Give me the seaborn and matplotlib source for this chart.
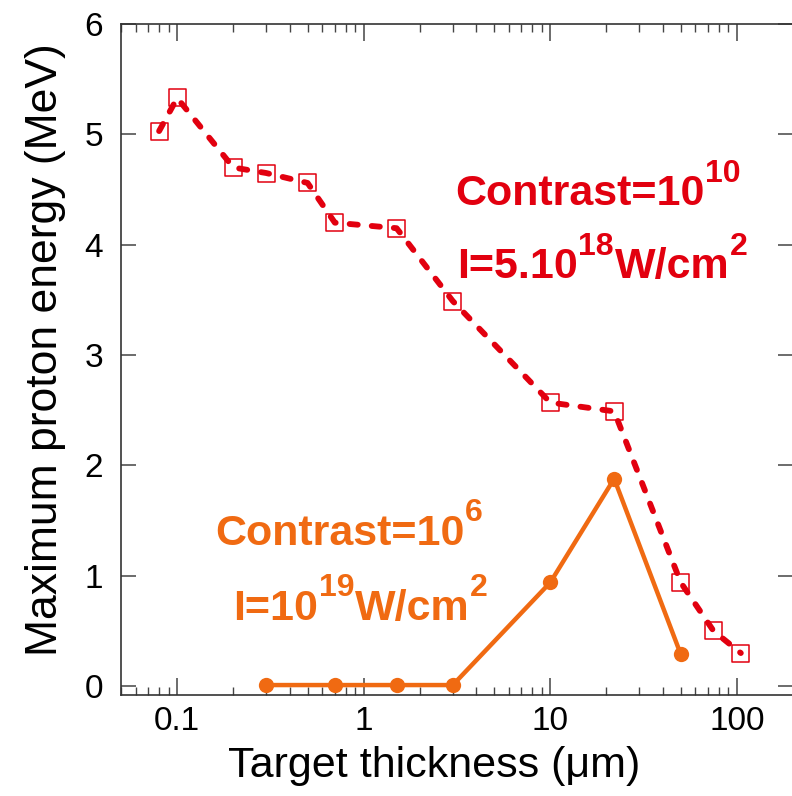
import numpy as np
import pandas as pd
import matplotlib
matplotlib.use('Agg')
import matplotlib.pyplot as plt
import seaborn as sns
from matplotlib.ticker import LogLocator, NullFormatter, FixedLocator

# contrast 1e10, I = 5e18 W/cm2
thick_hi = [0.08, 0.1, 0.2, 0.3, 0.5, 0.7, 1.5, 3.0, 10, 22, 50, 75, 105]
energy_hi = [5.03, 5.33, 4.70, 4.65, 4.56, 4.20, 4.15, 3.49, 2.57, 2.49, 0.94, 0.50, 0.30]

# contrast 1e6, I = 1e19 W/cm2
thick_lo = [0.3, 0.7, 1.5, 3.0, 10, 22, 50]
energy_lo = [0.01, 0.01, 0.01, 0.01, 0.94, 1.88, 0.29]

x_ticks = [0.1, 1, 10, 100]
x_tick_labels = ['0.1', '1', '10', '100']
y_ticks = [0, 1, 2, 3, 4, 5, 6]

# annotation pieces: base, superscript, base, superscript ...
label_hi_1 = ['Contrast=10', '10']
label_hi_2 = ['I=5.10', '18', 'W/cm', '2']
label_lo_1 = ['Contrast=10', '6']
label_lo_2 = ['I=10', '19', 'W/cm', '2']

RED = '#e2000f'
ORANGE = '#f06a12'

sns.set_style('ticks')
plt.rcParams['font.family'] = ['Liberation Sans', 'DejaVu Sans']
plt.rcParams['text.color'] = 'black'

df_hi = pd.DataFrame({'t': thick_hi, 'e': energy_hi})
df_lo = pd.DataFrame({'t': thick_lo, 'e': energy_lo})

fig, ax = plt.subplots(figsize=(7.92, 7.96), dpi=100)
fig.subplots_adjust(left=0.1528, right=1.0013, bottom=0.1269, top=0.9698)

# red series: open squares with a thick dashed line on top
sns.scatterplot(data=df_hi, x='t', y='e', ax=ax, marker='s', s=150,
                facecolor='none', edgecolor=RED, linewidth=1.1, zorder=3)
sns.lineplot(data=df_hi, x='t', y='e', ax=ax, color=RED, linewidth=4.2,
             dashes=False, zorder=4, estimator=None, sort=False)
ln_hi = ax.lines[-1]
ln_hi.set_dashes((1.4, 2.4))
ln_hi.set_dash_capstyle('round')

# orange series: solid line with filled circles
sns.lineplot(data=df_lo, x='t', y='e', ax=ax, color=ORANGE, linewidth=3.2,
             marker='o', markersize=11, markeredgewidth=0, zorder=5,
             estimator=None, sort=False)

ax.set_xscale('log')
ax.set_xlim(0.05, 200)
ax.set_ylim(-0.08, 6.0)

ax.xaxis.set_major_locator(FixedLocator(x_ticks))
ax.set_xticklabels(x_tick_labels)
ax.xaxis.set_minor_locator(LogLocator(base=10, subs=np.arange(2, 10)))
ax.xaxis.set_minor_formatter(NullFormatter())
ax.set_yticks(y_ticks)

for s in ax.spines.values():
    s.set_color('#333333')
    s.set_linewidth(1.2)

ax.tick_params(axis='both', which='both', direction='in', top=True, right=True,
               color='#444444', labelsize=24, labelcolor='black')
ax.tick_params(axis='y', which='major', length=11, width=1.1, pad=13)
ax.tick_params(axis='x', which='major', length=12, width=1.1, pad=8)
ax.tick_params(axis='x', which='minor', length=6, width=1.0)

ax.set_xlabel('Target thickness (μm)', fontsize=31, color='black')
ax.set_ylabel('Maximum proton energy (MeV)', fontsize=32, color='black')
ax.xaxis.set_label_coords(0.466, -0.076)
ax.yaxis.set_label_coords(-0.082, 0.514)


def sup_text(x, y, parts, color, size=31, sup_size=23, rise=18.5):
    """Bold text with superscripts, pieces chained left to right."""
    base = ax.text(x, y, parts[0], transform=ax.transAxes, color=color,
                   fontsize=size, fontweight='bold', ha='left', va='baseline')
    prev = base
    for i, piece in enumerate(parts[1:]):
        if i % 2 == 0:
            t = ax.annotate(piece, xy=(1, 0), xycoords=(prev, base),
                            xytext=(0.5, rise), textcoords='offset points',
                            color=color, fontsize=sup_size, fontweight='bold',
                            ha='left', va='bottom')
        else:
            t = ax.annotate(piece, xy=(1, 0), xycoords=(prev, base),
                            xytext=(0.5, 0), textcoords='offset points',
                            color=color, fontsize=size, fontweight='bold',
                            ha='left', va='bottom')
        prev = t


sup_text(0.497, 0.730, label_hi_1, RED)
sup_text(0.500, 0.621, label_hi_2, RED)
sup_text(0.140, 0.2235, label_lo_1, ORANGE)
sup_text(0.167, 0.112, label_lo_2, ORANGE)

plt.savefig('out.png', dpi=100)
plt.close()
